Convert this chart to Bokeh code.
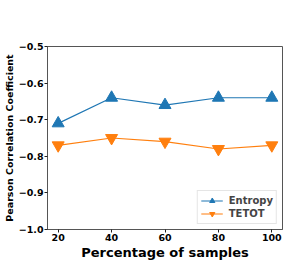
from bokeh.plotting import figure
from bokeh.models import FixedTicker, Legend, LegendItem
from bokeh.embed import file_html
from bokeh.resources import INLINE

x_vals = [20, 40, 60, 80, 100]
entropy = [-0.71, -0.64, -0.66, -0.64, -0.64]
tetot = [-0.77, -0.75, -0.76, -0.78, -0.77]
y_ticks = [-1.0, -0.9, -0.8, -0.7, -0.6, -0.5]
x_ticks = [20, 40, 60, 80, 100]

p = figure(width=286, height=263, output_backend="svg", toolbar_location=None,
           x_range=(16, 104), y_range=(-1.0, -0.5),
           min_border_left=44, min_border_right=4, min_border_top=46, min_border_bottom=34)
p.grid.visible = False
p.outline_line_color = "#555555"
p.outline_line_width = 1

for ax in (p.xaxis[0], p.yaxis[0]):
    ax.axis_line_color = "#555555"
    ax.major_tick_line_color = "#222222"
    ax.major_tick_out = 3
    ax.major_tick_in = 0
    ax.minor_tick_line_color = None
    ax.major_label_standoff = 1
    ax.major_label_text_font = "DejaVu Sans"
    ax.major_label_text_font_style = "bold"
    ax.major_label_text_font_size = "9.5px"
    ax.major_label_text_color = "black"
    ax.axis_label_text_font = "DejaVu Sans"
    ax.axis_label_text_font_style = "bold"
    ax.axis_label_text_color = "black"
    ax.axis_label_standoff = 1

p.xaxis.ticker = FixedTicker(ticks=x_ticks)
p.yaxis.ticker = FixedTicker(ticks=y_ticks)
p.yaxis.major_label_overrides = {t: ("\u2212%.1f" % abs(t)) for t in y_ticks}
p.xaxis.axis_label = "Percentage of samples"
p.xaxis.axis_label_text_font_size = "13px"
p.yaxis.axis_label = "Pearson Correlation Coefficient"
p.yaxis.axis_label_text_font_size = "9.5px"

c1 = "#1f77b4"
c2 = "#ff7f0e"
l1 = p.line(x_vals, entropy, line_color=c1, line_width=1.2)
m1 = p.scatter(x_vals, entropy, marker="triangle", size=12, fill_color=c1, line_color=c1)
l2 = p.line(x_vals, tetot, line_color=c2, line_width=1.2)
m2 = p.scatter(x_vals, tetot, marker="inverted_triangle", size=12, fill_color=c2, line_color=c2)

legend = Legend(items=[LegendItem(label="Entropy", renderers=[l1, m1]),
                       LegendItem(label="TETOT", renderers=[l2, m2])],
                location="bottom_right")
legend.label_text_font = "DejaVu Sans"
legend.label_text_font_style = "bold"
legend.label_text_font_size = "10px"
legend.border_line_color = "#cccccc"
legend.background_fill_alpha = 0.9
legend.glyph_width = 22
legend.glyph_height = 13
legend.label_height = 13
legend.label_standoff = 6
legend.spacing = 0
legend.padding = 3
legend.margin = 5
p.add_layout(legend)

open("out.html", "w").write(file_html(p, INLINE))
